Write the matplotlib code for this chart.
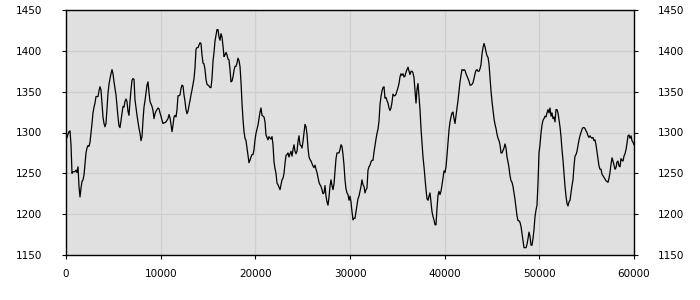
import numpy as np
import matplotlib
matplotlib.use("Agg")
import matplotlib.pyplot as plt

# values, one per screen pixel, x from 0 to 60000
tramo_1 = [1291, 1294, 1298, 1301, 1302, 1285, 1250, 1252, 1252, 1252, 1254, 1251, 1258, 1234, 1221, 1232,
           1240, 1242, 1248, 1262, 1275, 1281, 1284, 1283, 1288, 1299, 1311, 1324, 1331, 1336, 1344, 1344,
           1344, 1351, 1356, 1352, 1335, 1319, 1311, 1307, 1311, 1330, 1348, 1359, 1366, 1372, 1377, 1372,
           1362, 1354, 1346, 1332, 1319, 1308, 1306, 1315, 1323, 1332, 1331, 1338, 1341, 1338, 1326, 1321,
           1338, 1352, 1364, 1366, 1365, 1340, 1330, 1321, 1313, 1305, 1299, 1290, 1295, 1315, 1331, 1339,
           1348, 1358, 1362, 1349, 1338, 1335, 1332, 1327, 1317, 1323, 1326, 1328, 1330, 1329]
tramo_2 = [1324, 1320, 1315, 1311, 1312, 1312, 1313, 1315, 1317, 1322, 1318, 1310, 1301, 1309, 1319, 1321,
           1319, 1328, 1345, 1345, 1346, 1354, 1358, 1357, 1346, 1338, 1328, 1323, 1326, 1333, 1339, 1346,
           1352, 1359, 1366, 1379, 1402, 1404, 1404, 1407, 1410, 1409, 1395, 1385, 1384, 1377, 1365, 1359,
           1358, 1357, 1355, 1355, 1366, 1387, 1398, 1412, 1419, 1426, 1426, 1417, 1413, 1421, 1417, 1406,
           1393, 1395, 1398, 1395, 1390, 1389, 1377, 1362, 1363, 1368, 1376, 1381, 1381, 1385, 1391, 1388,
           1381, 1362, 1336, 1316, 1301, 1293, 1290, 1281, 1273, 1263, 1266, 1270, 1273, 1273]
tramo_3 = [1279, 1291, 1299, 1304, 1309, 1317, 1325, 1330, 1321, 1320, 1319, 1313, 1297, 1294, 1291, 1295,
           1293, 1292, 1295, 1285, 1264, 1256, 1250, 1238, 1236, 1233, 1230, 1236, 1242, 1244, 1250, 1262,
           1272, 1273, 1275, 1270, 1274, 1277, 1271, 1279, 1285, 1277, 1274, 1277, 1289, 1296, 1285, 1284,
           1281, 1289, 1299, 1310, 1307, 1298, 1281, 1270, 1267, 1265, 1262, 1259, 1257, 1260, 1255, 1251,
           1245, 1239, 1236, 1234, 1230, 1225, 1226, 1235, 1222, 1215, 1211, 1221, 1234, 1242, 1235, 1230,
           1237, 1252, 1268, 1275, 1275, 1275, 1279, 1285, 1283, 1273, 1260, 1242, 1231, 1226]
tramo_4 = [1224, 1217, 1222, 1215, 1203, 1193, 1195, 1195, 1203, 1211, 1219, 1222, 1228, 1234, 1242, 1236,
           1234, 1226, 1230, 1232, 1254, 1258, 1260, 1264, 1266, 1266, 1276, 1284, 1292, 1299, 1304, 1314,
           1334, 1344, 1351, 1355, 1356, 1342, 1343, 1339, 1336, 1330, 1327, 1330, 1337, 1347, 1345, 1345,
           1347, 1351, 1355, 1360, 1368, 1372, 1370, 1372, 1368, 1369, 1374, 1377, 1380, 1375, 1371, 1375,
           1375, 1373, 1367, 1352, 1336, 1353, 1360, 1344, 1328, 1305, 1287, 1270, 1258, 1244, 1230, 1219,
           1217, 1222, 1226, 1215, 1203, 1197, 1193, 1187, 1187, 1207, 1223, 1228, 1224, 1228]
tramo_5 = [1236, 1244, 1253, 1251, 1258, 1272, 1288, 1303, 1313, 1319, 1324, 1325, 1317, 1311, 1321, 1330,
           1339, 1350, 1362, 1370, 1377, 1376, 1377, 1376, 1372, 1369, 1366, 1363, 1358, 1358, 1359, 1361,
           1366, 1372, 1376, 1377, 1375, 1375, 1378, 1383, 1396, 1404, 1409, 1405, 1399, 1394, 1392, 1384,
           1368, 1351, 1338, 1327, 1317, 1310, 1305, 1298, 1293, 1290, 1285, 1275, 1275, 1278, 1281, 1286,
           1281, 1270, 1264, 1257, 1247, 1241, 1239, 1234, 1226, 1218, 1208, 1198, 1192, 1192, 1190, 1185,
           1176, 1166, 1159, 1159, 1159, 1163, 1170, 1178, 1173, 1162, 1162, 1170, 1181, 1197]
tramo_6 = [1205, 1211, 1238, 1275, 1285, 1299, 1309, 1315, 1317, 1320, 1319, 1324, 1328, 1324, 1330, 1320,
           1324, 1317, 1319, 1313, 1328, 1328, 1324, 1315, 1307, 1295, 1279, 1266, 1250, 1234, 1222, 1213,
           1210, 1215, 1217, 1226, 1235, 1242, 1259, 1271, 1273, 1277, 1284, 1291, 1296, 1300, 1304, 1306,
           1306, 1305, 1302, 1300, 1296, 1294, 1296, 1294, 1293, 1294, 1290, 1291, 1285, 1276, 1268, 1259,
           1255, 1255, 1249, 1247, 1245, 1243, 1241, 1240, 1239, 1244, 1251, 1261, 1269, 1265, 1260, 1255,
           1257, 1264, 1265, 1259, 1258, 1268, 1266, 1265, 1271, 1274, 1279, 1287, 1296, 1297, 1293, 1296,
           1290, 1288, 1285]

valores = np.array(tramo_1 + tramo_2 + tramo_3 + tramo_4 + tramo_5 + tramo_6, dtype=float)
x = np.linspace(0, 60000, len(valores))

xticks = [0, 10000, 20000, 30000, 40000, 50000, 60000]
yticks = [1150, 1200, 1250, 1300, 1350, 1400, 1450]

fig = plt.figure(figsize=(7, 3), dpi=100)
ax = fig.add_axes([66/700, 45/300, 568/700, 245/300])
ax.set_facecolor("#e0e0e0")

ax.plot(x, valores, color="black", linewidth=0.9)

ax.set_xlim(0, 60000)
ax.set_ylim(1150, 1450)
ax.set_xticks(xticks)
ax.set_yticks(yticks)
ax.grid(True, color="#cfcfcf", linewidth=0.9)
ax.set_axisbelow(True)

for lado in ax.spines.values():
    lado.set_color("black")
    lado.set_linewidth(1)

ax.tick_params(axis="y", left=True, right=True, labelleft=True, labelright=True,
               direction="out", length=3, pad=14, labelsize=7.5, colors="black")
ax.tick_params(axis="x", direction="out", length=3, pad=7, labelsize=7.5, colors="black")

fig.savefig("out.png", dpi=100)
